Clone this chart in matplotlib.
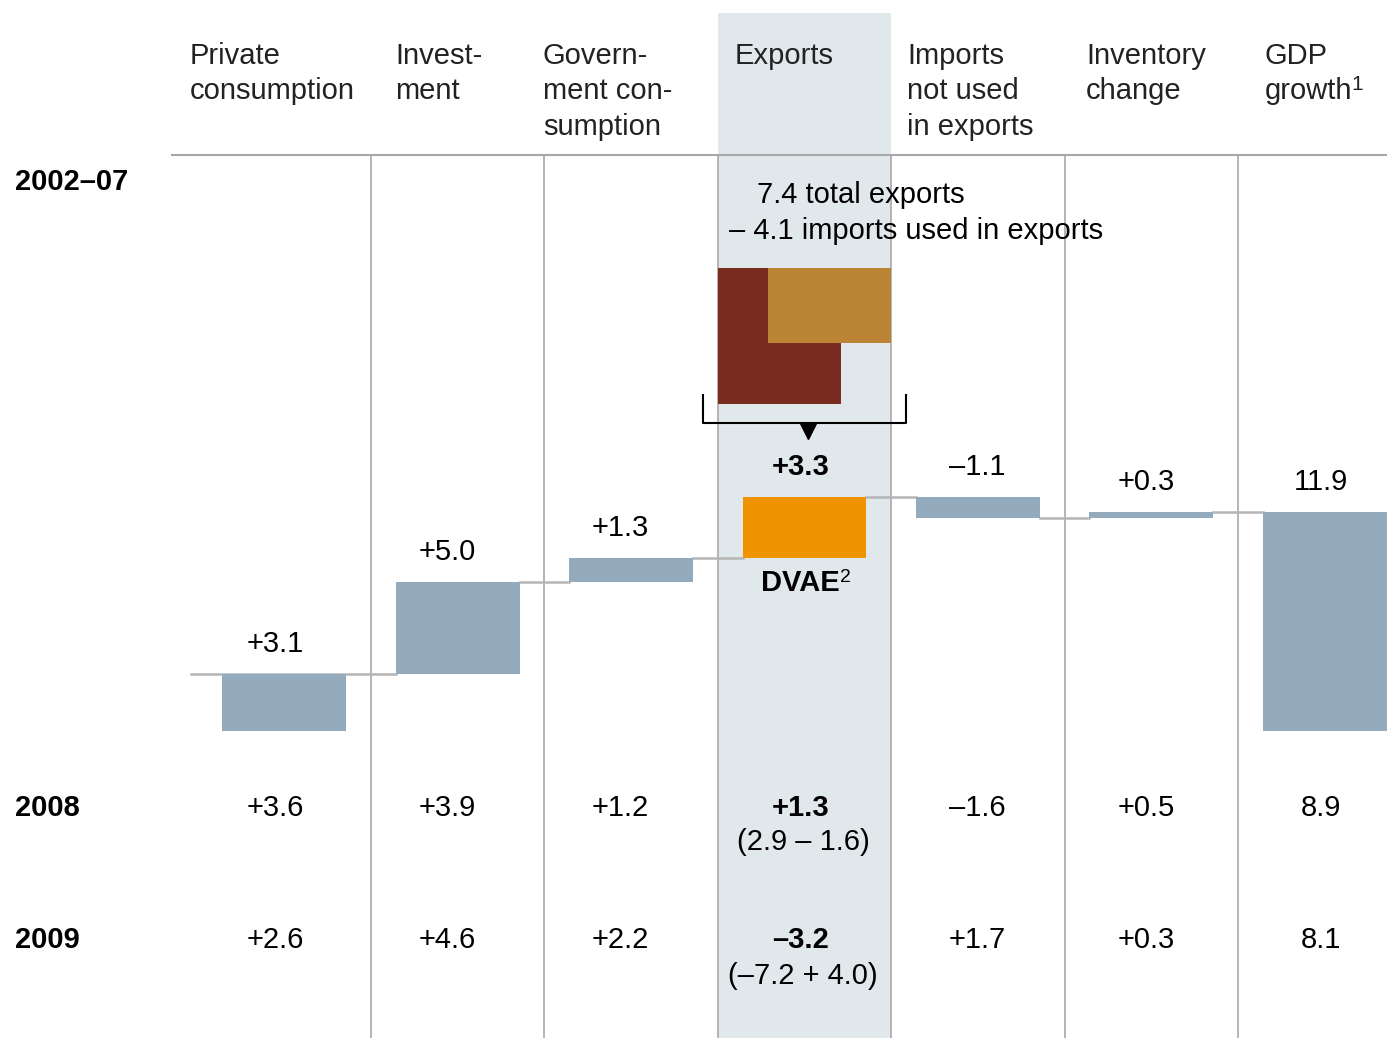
import matplotlib.pyplot as plt
from matplotlib.patches import Rectangle

plt.rcParams['font.family'] = ['Liberation Sans', 'DejaVu Sans']

# column headers
headers = ["Private\nconsumption", "Invest-\nment", "Govern-\nment con-\nsumption",
           "Exports", "Imports\nnot used\nin exports", "Inventory\nchange", "GDP\ngrowth"]

# 2002-07 waterfall (percentage points)
steps_2002 = [3.1, 5.0, 1.3, 3.3, -1.1, 0.3]
gdp_2002 = 11.9
labels_2002 = ["+3.1", "+5.0", "+1.3", "+3.3", "–1.1", "+0.3", "11.9"]
total_exports = 7.4
imports_in_exports = 4.1

# later years, shown as a table
row_years = ["2002–07", "2008", "2009"]
values_2008 = ["+3.6", "+3.9", "+1.2", "+1.3", "–1.6", "+0.5", "8.9"]
values_2009 = ["+2.6", "+4.6", "+2.2", "–3.2", "+1.7", "+0.3", "8.1"]
exports_detail = ["(2.9 – 1.6)", "(–7.2 + 4.0)"]

BAR_COLOR = "#93abbd"
DVAE_COLOR = "#f09300"
EXPORT_COLOR = "#7a2b1f"
IMPORT_COLOR = "#bc8435"
SHADE = "#e1e8ec"
GRID = "#a8a8a8"

# layout in pixels
W, H = 1387, 1038
X0, PITCH = 284.3, 173.4   # centre of first column, column pitch
Y0, SCALE = 731, 18.4      # zero line, pixels per point
LABEL_X = [275, 447, 620, 801, 977, 1146, 1321]  # text centres per column


def vy(py):
    """pixel row -> value"""
    return (Y0 - py) / SCALE


def vx(px):
    """pixel column -> column index"""
    return (px - X0) / PITCH


fig = plt.figure(figsize=(W / 100, H / 100), dpi=100)
ax = fig.add_axes([0, 0, 1, 1])
ax.set_xlim(vx(0), vx(W))
ax.set_ylim(vy(H), vy(0))
ax.axis("off")
renderer = fig.canvas.get_renderer()

FS = 21
SUP = 14

# shaded exports column
ax.add_patch(Rectangle((2.5, vy(H)), 1.0, vy(13) - vy(H), color=SHADE, zorder=0, lw=0))

# grid lines
ax.hlines(vy(155), vx(171), vx(W), color=GRID, lw=1.5, zorder=1)
ax.vlines([i + 0.5 for i in range(6)], vy(H), vy(155), color=GRID, lw=1.2, zorder=1)

# headers
header_x = [190, 395, 543, 735, 907, 1086, 1265]
for hx, h in zip(header_x, headers):
    fig.text(hx / W, 1 - 42 / H, h, fontsize=FS, va="top", ha="left",
             linespacing=1.33, color="#222222")
# footnote mark after "growth"
t = fig.text(1265 / W, 1 - 42 / H, "\ngrowth", fontsize=FS, va="top", ha="left",
             linespacing=1.33, color=(0, 0, 0, 0))
bb = t.get_window_extent(renderer)
fig.text((bb.x1 - 1) / W, (bb.y0 + 21) / H, "1", fontsize=SUP + 1, ha="left",
         va="center", color="#222222")

# row labels
for yr, py in zip(row_years, [182, 808, 940]):
    fig.text(15 / W, 1 - py / H, yr, fontsize=FS, fontweight="bold", va="center", ha="left")

# waterfall
bw = 0.715
bottoms = []
level = 0.0
for s in steps_2002:
    bottoms.append(level)
    level += s
colors = [BAR_COLOR] * 6
colors[3] = DVAE_COLOR
ax.bar(range(6), steps_2002, bottom=bottoms, width=bw, color=colors, zorder=3)
ax.bar(6, gdp_2002, bottom=0, width=bw, color=BAR_COLOR, zorder=3)

# connectors
conn = dict(color="#b5b5b5", lw=1.8, zorder=2)
ax.plot([-bw / 2 - 0.18, 1 - bw / 2], [steps_2002[0]] * 2, **conn)
for i in range(1, 6):
    lv = bottoms[i] + steps_2002[i]
    ax.plot([i + bw / 2, i + 1 - bw / 2], [lv, lv], **conn)

# value labels above bars
tops = [max(b, b + s) for b, s in zip(bottoms, steps_2002)] + [gdp_2002]
for i, (t, lab) in enumerate(zip(tops, labels_2002)):
    ax.annotate(lab, (vx(LABEL_X[i]), t), xytext=(0, 21.6), textcoords="offset points",
                ha="center", va="center", fontsize=FS,
                fontweight="bold" if i == 3 else "normal", zorder=4)

dv = ax.annotate("DVAE", (vx(800), bottoms[3]), xytext=(0, -18),
                 textcoords="offset points", ha="center", va="center", fontsize=FS,
                 fontweight="bold", zorder=4)
bb = dv.get_window_extent(renderer)
fig.text((bb.x1 + 1) / W, (bb.y0 + bb.height * 0.5 + 6) / H, "2",
         fontsize=SUP, ha="left", va="center", zorder=5)

# total exports minus imports used in exports
top = vy(268)
sq = 123 / PITCH
ax.add_patch(Rectangle((2.5, top - total_exports), sq, total_exports,
                       color=EXPORT_COLOR, lw=0, zorder=3))
ax.add_patch(Rectangle((3.5 - sq, top - imports_in_exports), sq, imports_in_exports,
                       color=IMPORT_COLOR, lw=0, zorder=3))
ax.text(vx(757), vy(195), f"{total_exports} total exports", fontsize=FS,
        ha="left", va="center", zorder=4)
ax.text(vx(729), vy(231), f"– {imports_in_exports} imports used in exports", fontsize=FS,
        ha="left", va="center", zorder=4)

# bracket + arrow
bl, br = vx(703), vx(906)
ax.plot([bl, bl, br, br], [vy(395), vy(423), vy(423), vy(395)], color="black", lw=1.5, zorder=4)
ax.plot(vx(808), vy(431), marker="v", ms=11, color="black", zorder=4)

# 2008 / 2009 rows
for vals, py, det, pyd in [(values_2008, 808, exports_detail[0], 842),
                           (values_2009, 940, exports_detail[1], 976)]:
    for i, v in enumerate(vals):
        ax.text(vx(LABEL_X[i]), vy(py), v, fontsize=FS, ha="center", va="center",
                fontweight="bold" if i == 3 else "normal", zorder=4)
    ax.text(vx(803), vy(pyd), det, fontsize=FS, ha="center", va="center", zorder=4)

fig.savefig("out.png", dpi=100)
